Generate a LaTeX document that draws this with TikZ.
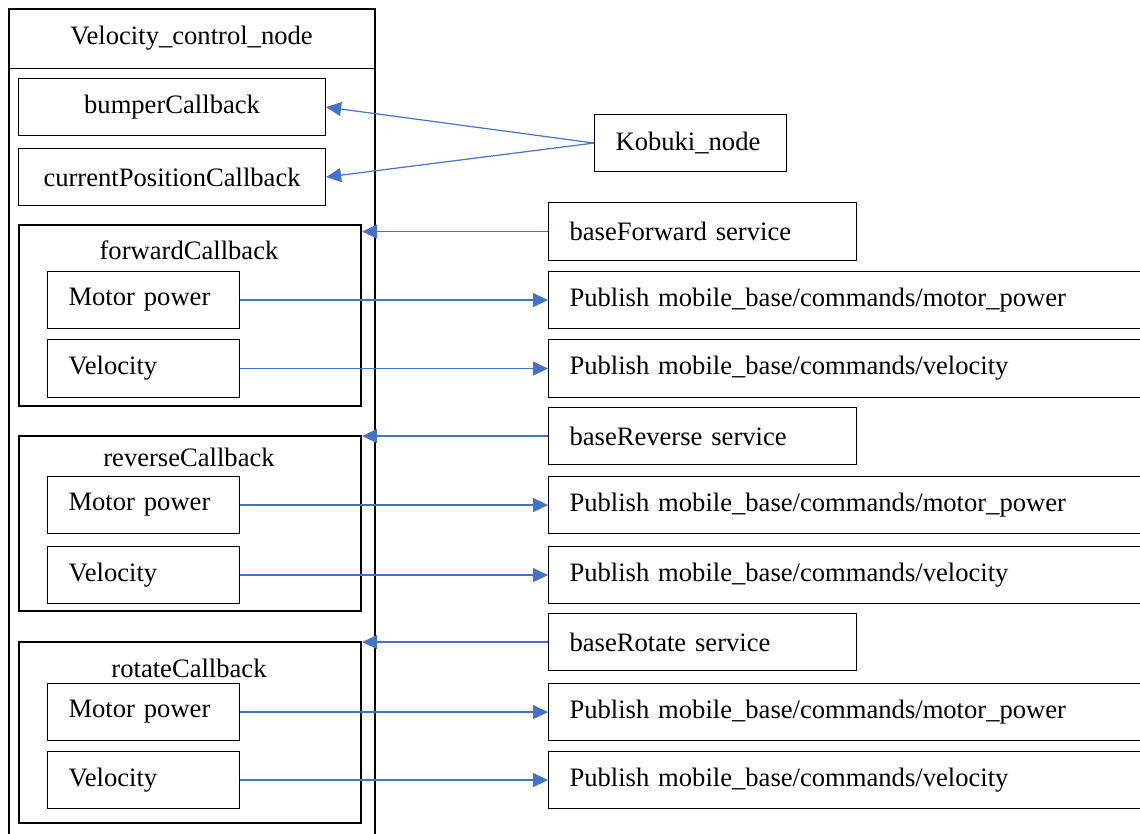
\documentclass[tikz,border=0pt]{standalone}
\usepackage{fontspec}
\setmainfont{Liberation Serif}
\usetikzlibrary{arrows.meta}
\definecolor{arrblue}{HTML}{4472C4}
\begin{document}
\begin{tikzpicture}[x=1pt,y=-1pt,
  font=\fontsize{26.6}{30}\selectfont,
  box/.style={draw, line width=1.1pt, inner sep=0pt, anchor=north west, align=center},
  lbox/.style={box, inner xsep=21pt, align=left},
  grp/.style={draw, line width=2.2pt, inner sep=0pt, anchor=north west},
  conn/.style={draw=arrblue, line width=1.2pt, -{Triangle[length=15pt,width=14pt]}},
  plain/.style={inner sep=0pt}]
\useasboundingbox (0,0) rectangle (1140,834);
\clip (0,0) rectangle (1140,834);
% outer node
\node[grp, minimum width=366pt, minimum height=840pt] (outer) at (8,8) {};
\node[box, minimum width=366pt, minimum height=60pt] (vcn) at (8,8) {Velocity\_control\_node};
\node[box, minimum width=307pt, minimum height=57pt] (bump) at (18,78) {bumperCallback};
\node[box, minimum width=307pt, minimum height=57pt] (cpc) at (18,148) {currentPositionCallback};
% groups
\node[grp, minimum width=342pt, minimum height=181pt] (fwd) at (18,224) {};
\node[plain] (fwdl) at (189,250) {forwardCallback};
\node[lbox, minimum width=192pt, minimum height=57pt, text width=150pt] (fmp) at (47,271) {Motor power};
\node[lbox, minimum width=192pt, minimum height=58pt, text width=150pt] (fvel) at (47,339) {Velocity};
\node[grp, minimum width=342pt, minimum height=175pt] (rev) at (18,435) {};
\node[plain] (revl) at (189,457) {reverseCallback};
\node[lbox, minimum width=192pt, minimum height=57pt, text width=150pt] (rmp) at (47,476) {Motor power};
\node[lbox, minimum width=192pt, minimum height=57pt, text width=150pt] (rvel) at (47,546) {Velocity};
\node[grp, minimum width=342pt, minimum height=181pt] (rot) at (18,641) {};
\node[plain] (rotl) at (189,668) {rotateCallback};
\node[lbox, minimum width=192pt, minimum height=57pt, text width=150pt] (tmp) at (47,683) {Motor power};
\node[lbox, minimum width=192pt, minimum height=57pt, text width=150pt] (tvel) at (47,751) {Velocity};
% right column
\node[lbox, minimum width=192pt, minimum height=57pt, text width=150pt] (kob) at (594,114) {Kobuki\_node};
\node[lbox, minimum width=308pt, minimum height=58pt, text width=266pt] (bf) at (548,202) {baseForward service};
\node[lbox, minimum width=620pt, minimum height=57pt, text width=578pt] (p1) at (548,271) {Publish mobile\_base/commands/motor\_power};
\node[lbox, minimum width=620pt, minimum height=58pt, text width=578pt] (p2) at (548,339) {Publish mobile\_base/commands/velocity};
\node[lbox, minimum width=308pt, minimum height=57pt, text width=266pt] (br) at (548,407) {baseReverse service};
\node[lbox, minimum width=620pt, minimum height=57pt, text width=578pt] (p3) at (548,476) {Publish mobile\_base/commands/motor\_power};
\node[lbox, minimum width=620pt, minimum height=57pt, text width=578pt] (p4) at (548,546) {Publish mobile\_base/commands/velocity};
\node[lbox, minimum width=308pt, minimum height=57pt, text width=266pt] (bt) at (548,613) {baseRotate service};
\node[lbox, minimum width=620pt, minimum height=57pt, text width=578pt] (p5) at (548,683) {Publish mobile\_base/commands/motor\_power};
\node[lbox, minimum width=620pt, minimum height=57pt, text width=578pt] (p6) at (548,751) {Publish mobile\_base/commands/velocity};
% connectors
\draw[conn] (kob.west) -- (bump.east);
\draw[conn] (kob.west) -- (cpc.east);
\draw[conn] (bf.west) -- (fwd.east |- bf.west);
\draw[conn] (br.west) -- (rev.east |- br.west);
\draw[conn] (bt.west) -- (rot.east |- bt.west);
\draw[conn] (fmp.east) -- (p1.west);
\draw[conn] (fvel.east) -- (p2.west);
\draw[conn] (rmp.east) -- (p3.west);
\draw[conn] (rvel.east) -- (p4.west);
\draw[conn] (tmp.east) -- (p5.west);
\draw[conn] (tvel.east) -- (p6.west);
\end{tikzpicture}
\end{document}
